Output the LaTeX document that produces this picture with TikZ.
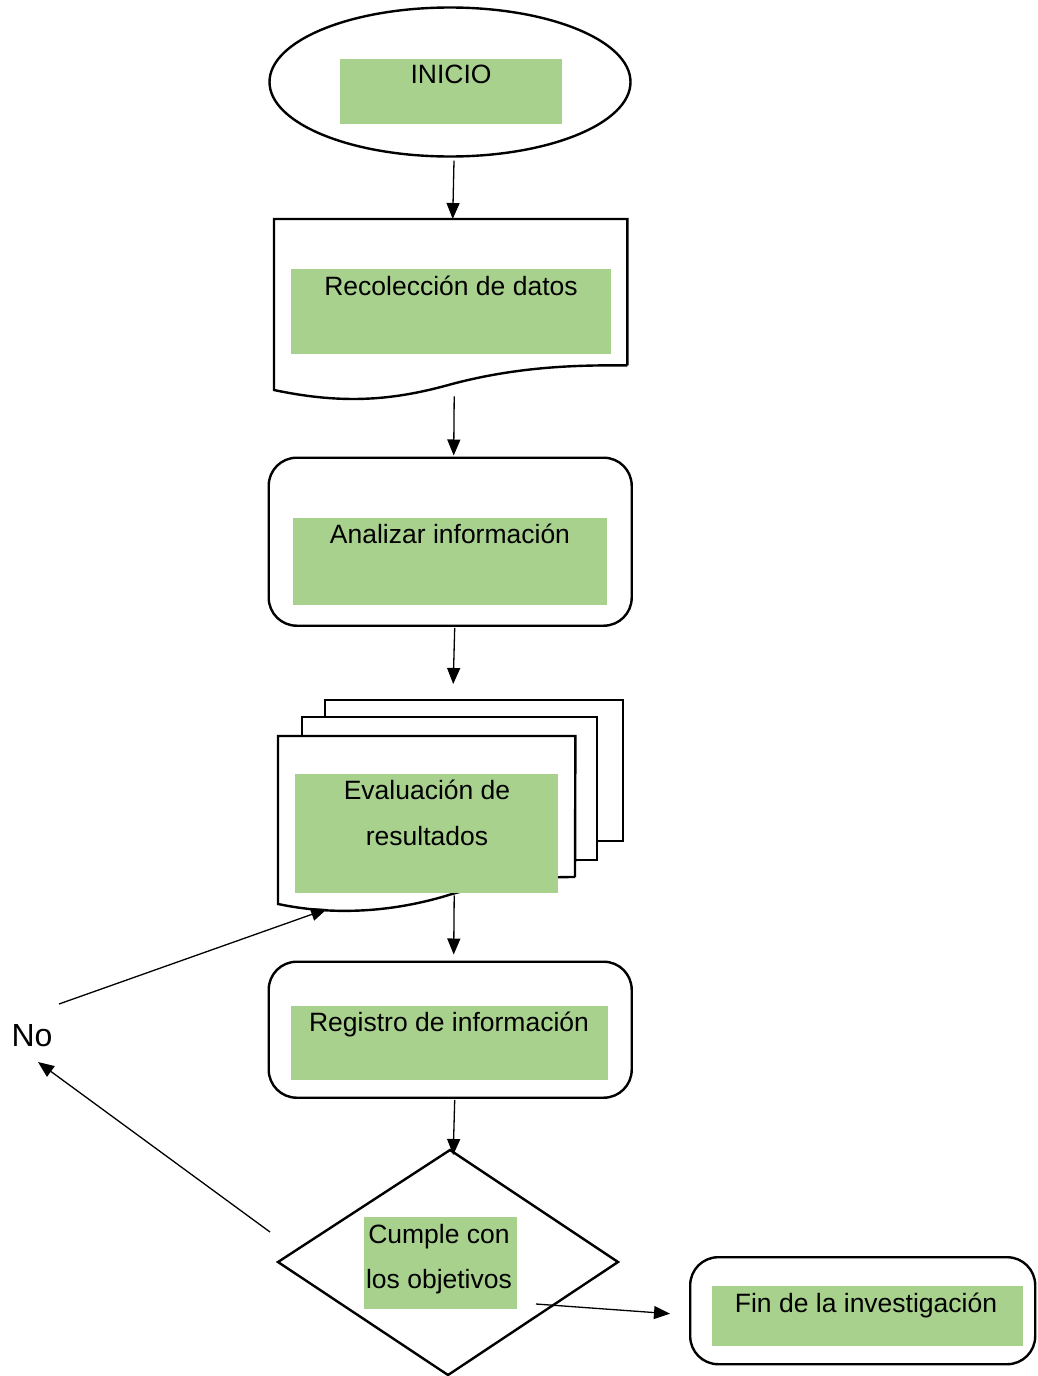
\documentclass[tikz,border=0pt]{standalone}
\usepackage{fontspec}
\setmainfont{Liberation Sans}
\usetikzlibrary{shapes.geometric,arrows.meta,calc}
\definecolor{gfill}{HTML}{A9D18E}
\begin{document}
\begin{tikzpicture}[x=1pt,y=-1pt,
 shp/.style={line width=2.4pt, draw=black, line join=miter},
 rbox/.style={shp, rounded corners=28pt, inner sep=0, anchor=north west, fill=white},
 conn/.style={line width=1.3pt, -{Triangle[length=16pt,width=13pt]}},
 gbox/.style={fill=gfill, draw=none, inner sep=0, anchor=north west},
 lbl/.style={font=\fontsize{26.5}{30}\selectfont, anchor=base, inner sep=0},
 hold/.style={inner sep=0, anchor=north west}]
\useasboundingbox (0,0) rectangle (1037,1376);

% INICIO
\node[shp, ellipse, inner sep=0, minimum width=361, minimum height=149] (inicio) at (450,82) {};
\node[gbox, minimum width=222, minimum height=65] (g1) at (340,59) {};
\node[lbl] (t1) at (451,83) {INICIO};

% Document
\node[hold, minimum width=353, minimum height=146] (doc) at (274,219) {};
\draw[shp] (doc.south east) -- (doc.north east) -- (doc.north west) -- (274,390)
  .. controls (345,405) and (395,400) .. (452,384)
  .. controls (520,366) and (580,365) .. (doc.south east);
\node[gbox, minimum width=320, minimum height=85] (g2) at (291,269) {};
\node[lbl] (t2) at (451,295) {Recolección de datos};

% Analizar
\node[rbox, minimum width=363, minimum height=168] (box1) at (267.5,456.5) {};
\node[gbox, minimum width=314, minimum height=87] (g3) at (293,518) {};
\node[lbl] (t3) at (450,543) {Analizar información};

% Multi-document
\node[hold, minimum width=345, minimum height=204] (stack) at (278,700) {};
\draw[shp, fill=white] (325,700) rectangle (623,841);
\draw[shp, fill=white] (302,717) rectangle (597,860);
\node[hold, minimum width=297, minimum height=168] (mdoc) at (278,736) {};
\draw[shp, fill=white] (575,877) -- (mdoc.north east) -- (mdoc.north west) -- (278,904)
  .. controls (335,916) and (395,912) .. (452,894)
  .. controls (505,879) and (545,877) .. (575,877);
\node[gbox, minimum width=263, minimum height=119] (g4) at (295,774) {};
\node[lbl] (t4a) at (427,799) {Evaluación de};
\node[lbl] (t4b) at (427,845) {resultados};

% Registro
\node[rbox, minimum width=363, minimum height=136] (box2) at (267.5,960.5) {};
\node[gbox, minimum width=317, minimum height=74] (g5) at (291,1006) {};
\node[lbl] (t5) at (449,1031) {Registro de información};

% Diamond
\node[hold, minimum width=340, minimum height=225] (dia) at (278,1150) {};
\draw[shp] (450,1150) -- (618,1262) -- (448,1375) -- (278,1262) -- cycle;
\node[gbox, minimum width=153, minimum height=92] (g6) at (364,1217) {};
\node[lbl] (t6a) at (439,1243) {Cumple con};
\node[lbl] (t6b) at (439,1288) {los objetivos};

% Fin
\node[rbox, minimum width=345, minimum height=107] (fin) at (689,1256) {};
\node[gbox, minimum width=311, minimum height=60] (g7) at (712,1286) {};
\node[lbl] (t7) at (866,1312) {Fin de la investigación};

% No
\node[lbl, font=\fontsize{32}{36}\selectfont] (no) at (32,1046) {No};
\coordinate (noout) at (59,1004);
\coordinate (noin) at (38,1062);
\coordinate (diaout) at (270,1232);
\coordinate (mdocin) at (327,909);
\coordinate (diaright) at (536,1304);

% Connectors
\draw[conn] ($(inicio.south)+(4,3)$) -- ($(doc.north)+(2,0)$);
\draw[conn] ($(doc.south)+(3.5,31)$) -- ($(box1.north)+(3.5,-1)$);
\draw[conn] ($(box1.south)+(4.5,1)$) -- ($(stack.north)+(2.5,-16)$);
\draw[conn] ($(mdoc.south)+(27.5,-9)$) -- ($(box2.north)+(3.5,-6)$);
\draw[conn] ($(box2.south)+(4.5,1)$) -- ($(dia.north)+(5,5)$);
\draw[conn] (diaright) -- ($(fin.west)+(-19,3)$);
\draw[conn] (diaout) -- (noin);
\draw[conn] (noout) -- (mdocin);
\end{tikzpicture}
\end{document}
